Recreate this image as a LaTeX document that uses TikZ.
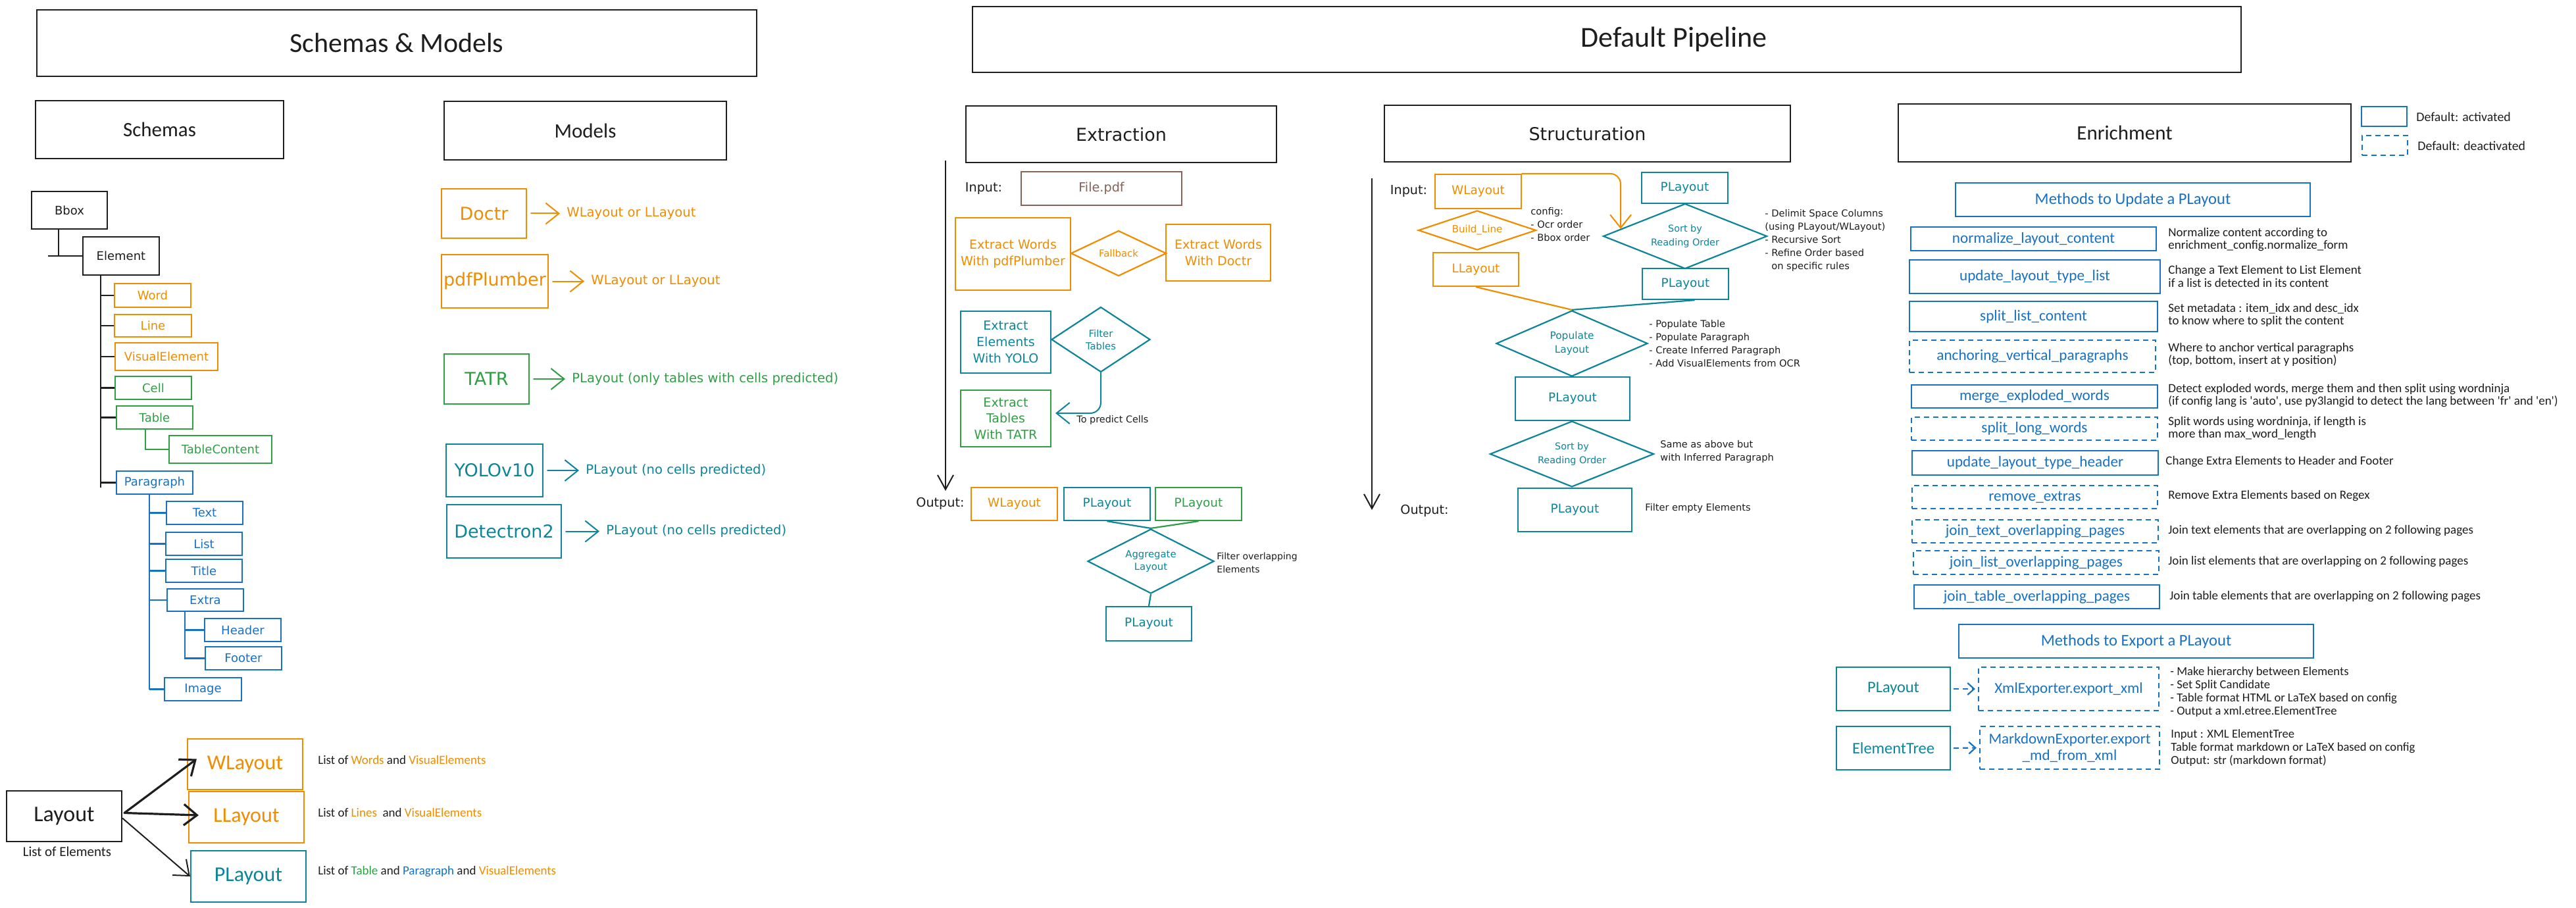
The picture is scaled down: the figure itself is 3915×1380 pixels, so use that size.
\documentclass[tikz,border=0pt]{standalone}
\usepackage{fontspec}
\setmainfont{DejaVu Sans}
\newfontfamily\narrow{Carlito}
\usetikzlibrary{arrows.meta,calc,shapes.geometric}

\definecolor{ink}{HTML}{1E1E1E}
\definecolor{orng}{HTML}{F08C00}
\definecolor{grn}{HTML}{2F9E44}
\definecolor{tl}{HTML}{0C8599}
\definecolor{blu}{HTML}{1971C2}
\definecolor{brwn}{HTML}{846358}

\newcommand\fsz[2]{\fontsize{#1}{#2}\selectfont}
% box from corner (x1,y1) to corner (x2,y2), text centred
\newcommand\bx[7]{\node[#2, minimum width={(#5-#3)*0.5pt}, minimum height={(#6-#4)*0.5pt}] (#1) at ({(#3+#5)/2},{(#4+#6)/2}) {#7};}

\tikzset{
  frame/.style={draw=ink, line width=1.3pt, inner sep=0pt, text=ink},
  cbox/.style={draw=#1, text=#1, line width=1.1pt, inner sep=0pt, align=center},
  dbox/.style={cbox=#1, dash pattern=on 4pt off 3pt},
  dia/.style={diamond, draw=#1, text=#1, line width=1.1pt, inner sep=0pt, align=center},
  note/.style={text=ink, align=left, inner sep=0pt},
  lbl/.style={text=ink, inner sep=0pt},
  arr/.style={-{Straight Barb[length=10pt,width=16pt]}, line width=1pt, line cap=round},
  link/.style={line width=1.1pt},
}

\begin{document}
\begin{tikzpicture}[x=0.5pt, y=-0.5pt]
\fill[white] (0,0) rectangle (3915,1380);
\useasboundingbox (0,0) rectangle (3915,1380);

% ---------- section headers ----------
\bx{tSM}{frame, font=\narrow\fsz{21}{25}}{56}{15}{1150}{116}{Schemas \& Models}
\bx{tDP}{frame}{1478}{10}{3406}{110}{}
\node[lbl, font=\narrow\fsz{22}{26}] (tDPtxt) at (2544,60) {Default Pipeline};
\bx{tSch}{frame, font=\narrow\fsz{15.5}{18}}{54}{153}{431}{241}{Schemas}
\bx{tMod}{frame, font=\narrow\fsz{15.5}{18}}{675}{154}{1104}{243}{Models}
\bx{tExt}{frame, font=\fsz{13.5}{16}}{1468}{161}{1940}{247}{Extraction}
\bx{tStr}{frame, font=\fsz{13.5}{16}}{2104}{160}{2721}{246}{Structuration}
\bx{tEnr}{frame, font=\narrow\fsz{15.5}{18}}{2885}{158}{3573}{246}{Enrichment}

% ---------- schema tree ----------
\begin{scope}[font=\fsz{9}{11}]
\bx{bbox}{cbox=ink}{48}{291}{163}{348}{Bbox}
\bx{elem}{cbox=ink}{126}{360}{242}{418}{Element}
\bx{word}{cbox=orng}{174}{431}{290}{467}{Word}
\bx{line}{cbox=orng}{174}{478}{291}{512}{Line}
\bx{vis}{cbox=orng}{175}{521}{331}{563}{VisualElement}
\bx{cell}{cbox=grn}{175}{572}{291}{607}{Cell}
\bx{tbl}{cbox=grn}{177}{617}{293}{652}{Table}
\bx{tcont}{cbox=grn}{257}{662}{413}{704}{TableContent}
\bx{para}{cbox=blu}{177}{716}{293}{751}{Paragraph}
\bx{ptext}{cbox=blu}{253}{762}{369}{797}{Text}
\bx{plist}{cbox=blu}{252}{809}{368}{844}{List}
\bx{ptitle}{cbox=blu}{252}{850}{368}{885}{Title}
\bx{pextra}{cbox=blu}{254}{895}{370}{929}{Extra}
\bx{phead}{cbox=blu}{311}{940}{427}{975}{Header}
\bx{pfoot}{cbox=blu}{312}{983}{428}{1018}{Footer}
\bx{pimg}{cbox=blu}{250}{1030}{367}{1065}{Image}
\end{scope}

\coordinate (bj) at ($(bbox.south west)+(42,0)$);
\draw[link, ink] (bj) -- (bj |- elem.west);
\draw[link, ink] (elem.west) -- ++(-52,0);
\coordinate (tk) at ($(elem.south west)+(28,0)$);
\draw[link, ink] (tk) -- ($(tk |- para.west)+(0,7)$);
\foreach \n in {word,line,vis,cell,tbl,para} \draw[link, ink] (tk |- \n.west) -- (\n.west);
\draw[link, grn] ($(tbl.south west)+(45,0)$) |- (tcont.west);
\coordinate (pk) at ($(para.south west)+(51,0)$);
\draw[link, blu] (pk) -- (pk |- pimg.west);
\foreach \n in {ptext,plist,ptitle,pextra,pimg} \draw[link, blu] (pk |- \n.west) -- (\n.west);
\coordinate (xk) at ($(pextra.south west)+(28,0)$);
\draw[link, blu] (xk) |- (pfoot.west);
\draw[link, blu] (xk |- phead.west) -- (phead.west);

% ---------- models ----------
\begin{scope}[font=\fsz{13.5}{16}]
\bx{mdoc}{cbox=orng}{671}{287}{800}{362}{Doctr}
\bx{mpdf}{cbox=orng}{671}{387}{833}{468}{pdfPlumber}
\bx{mtatr}{cbox=grn}{675}{538}{804}{614}{TATR}
\bx{myolo}{cbox=tl}{678}{675}{825}{755}{YOLOv10}
\bx{mdet}{cbox=tl}{679}{767}{853}{848}{Detectron2}
\end{scope}
\begin{scope}[font=\fsz{9.8}{12}]
\node[text=orng, anchor=west, inner sep=5pt] (odoc) at (851,324.5) {WLayout or LLayout};
\node[text=orng, anchor=west, inner sep=5pt] (opdf) at (888,427.5) {WLayout or LLayout};
\node[text=grn, anchor=west, inner sep=5pt] (otatr) at (859,576) {PLayout (only tables with cells predicted)};
\node[text=tl, anchor=west, inner sep=5pt] (oyolo) at (880,715) {PLayout (no cells predicted)};
\node[text=tl, anchor=west, inner sep=5pt] (odet) at (911,807.5) {PLayout (no cells predicted)};
\end{scope}
\draw[arr, orng, shorten <=3pt] (mdoc.east) -- (odoc.west);
\draw[arr, orng, shorten <=3pt] (mpdf.east) -- (opdf.west);
\draw[arr, grn, shorten <=3pt] (mtatr.east) -- (otatr.west);
\draw[arr, tl, shorten <=3pt] (myolo.east) -- (oyolo.west);
\draw[arr, tl, shorten <=3pt] (mdet.east) -- (odet.west);

% ---------- layouts ----------
\bx{lay}{cbox=ink, font=\narrow\fsz{17}{20}}{10}{1202}{185}{1279}{Layout}
\node[lbl, font=\narrow\fsz{10.5}{12}] (layc) at (102,1294) {List of Elements};
\begin{scope}[font=\narrow\fsz{16}{19}]
\bx{wlay}{cbox=orng}{285}{1123}{460}{1200}{WLayout}
\bx{llay}{cbox=orng}{287}{1203}{462}{1281}{LLayout}
\bx{play}{cbox=tl}{290}{1293}{465}{1371}{PLayout}
\end{scope}
\draw[arr, ink, line width=1.6pt] ($(lay.east)+(3,-5)$) -- ($(wlay.west)+(15,-8)$);
\draw[arr, ink, line width=1.6pt] ($(lay.east)+(3,-5)$) -- ($(llay.west)+(16,-3)$);
\draw[arr, ink] ($(lay.east)+(0,3)$) -- (play.west);
\begin{scope}[font=\narrow\fsz{9.5}{11}]
\node[note, anchor=west] (wdesc) at (483,1155) {List of \textcolor{orng}{Words} and \textcolor{orng}{VisualElements}};
\node[note, anchor=west] (ldesc) at (483,1235) {List of \textcolor{orng}{Lines}\ \ and \textcolor{orng}{VisualElements}};
\node[note, anchor=west] (pdesc) at (483,1325) {List of \textcolor{grn}{Table} and \textcolor{blu}{Paragraph} and \textcolor{orng}{VisualElements}};
\end{scope}

% ---------- extraction ----------
\coordinate (ea) at (1437,244);
\coordinate (eb) at (1437,746);
\draw[line width=1pt, ink, -{Straight Barb[length=11pt,width=12pt]}] (ea) -- (eb);
\node[lbl, font=\fsz{9.6}{11}] (einp) at (1495,286) {Input:};
\bx{efile}{cbox=brwn, font=\fsz{9.6}{11}}{1552}{261}{1796}{312}{File.pdf}
\begin{scope}[font=\fsz{9.5}{12.4}]
\bx{epdf}{cbox=orng}{1452}{331}{1627}{441}{Extract Words\\With pdfPlumber}
\bx{edoc}{cbox=orng}{1772}{341}{1931}{427}{Extract Words\\With Doctr}
\bx{eyolo}{cbox=tl}{1460}{473}{1597}{567}{Extract\\Elements\\With YOLO}
\bx{etatr}{cbox=grn}{1460}{593}{1597}{679}{Extract\\Tables\\With TATR}
\end{scope}
\node[dia=orng, shape aspect=2.1, minimum width=72.5pt, minimum height=34.5pt, font=\fsz{7.4}{9}] (efb) at (1700,385) {Fallback};
\node[dia=tl, shape aspect=1.5, minimum width=75pt, minimum height=49.5pt, font=\fsz{7.4}{9.5}] (efilt) at (1673,516) {Filter\\Tables};
\draw[arr, tl, rounded corners=8pt] (efilt.south) |- ($(etatr.east)+(6,-8)$);
\node[note, anchor=west, font=\fsz{7.2}{9}] (epred) at (1636,639) {To predict Cells};
\node[lbl, font=\fsz{9.6}{11}] (eout) at (1429,765) {Output:};
\begin{scope}[font=\fsz{9.2}{11}]
\bx{eow}{cbox=orng}{1476}{741}{1607}{791}{WLayout}
\bx{eop}{cbox=tl}{1617}{741}{1748}{791}{PLayout}
\bx{eog}{cbox=grn}{1756}{741}{1887}{791}{PLayout}
\bx{efin}{cbox=tl}{1681}{922}{1811}{974}{PLayout}
\end{scope}
\node[dia=tl, shape aspect=1.96, minimum width=96pt, minimum height=49pt, font=\fsz{7.4}{9.5}] (eagg) at (1749,853) {Aggregate\\Layout};
\draw[link, tl] (eop.south) -- (eagg.north);
\draw[link, grn] (eog.south) -- (eagg.north);
\draw[link, tl] (eagg.south) -- (efin.north);
\node[note, anchor=west, font=\fsz{7}{10}] (eaggc) at (1849,855) {Filter overlapping\\Elements};

% ---------- structuration ----------
\coordinate (sa) at (2085,271);
\coordinate (sb) at (2085,775);
\draw[line width=1pt, ink, -{Straight Barb[length=11pt,width=12pt]}] (sa) -- (sb);
\node[lbl, font=\fsz{9.6}{11}] (sinp) at (2141,290) {Input:};
\node[lbl, font=\fsz{9.6}{11}] (sout) at (2165,776) {Output:};
\begin{scope}[font=\fsz{9.2}{11}]
\bx{sw}{cbox=orng}{2181}{265}{2312}{317}{WLayout}
\bx{sl}{cbox=orng}{2178}{384}{2308}{435}{LLayout}
\bx{sp1}{cbox=tl}{2495}{262}{2626}{309}{PLayout}
\bx{sp2}{cbox=tl}{2496}{408}{2627}{455}{PLayout}
\bx{sp3}{cbox=tl}{2303}{573}{2477}{639}{PLayout}
\bx{sp4}{cbox=tl}{2307}{742}{2480}{808}{PLayout}
\end{scope}
\node[dia=orng, shape aspect=3, minimum width=89.5pt, minimum height=30pt, font=\fsz{7.5}{9}] (sbl) at (2245,350) {Build\_Line};
\node[dia=tl, shape aspect=2.5, minimum width=124.5pt, minimum height=49.5pt, font=\fsz{7.2}{10.5}] (ssort) at (2561,359) {Sort by\\Reading Order};
\node[dia=tl, shape aspect=2.3, minimum width=115pt, minimum height=50pt, font=\fsz{7.7}{10.5}] (spop) at (2389,522) {Populate\\Layout};
\node[dia=tl, shape aspect=2.5, minimum width=124.5pt, minimum height=50pt, font=\fsz{7.2}{10.5}] (ssort2) at (2389,690) {Sort by\\Reading Order};
\draw[arr, orng, rounded corners=8pt] (sw.north east) -| ($(ssort.west)!0.22!(ssort.north)$);
\draw[link, orng] (sl.south) -- (spop.north);
\draw[link, tl] ($(sp2.south)+(14,0)$) -- (spop.north);
\begin{scope}[font=\fsz{7.3}{10}]
\node[note, anchor=west] (scfg) at (2326,341) {config:\\- Ocr order\\- Bbox order};
\node[note, anchor=north west] (ssortc) at (2682,318) {- Delimit Space Columns\\(using PLayout/WLayout)\\- Recursive Sort\\- Refine Order based\\\phantom{- }on specific rules};
\node[note, anchor=north west] (spopc) at (2506,486) {- Populate Table\\- Populate Paragraph\\- Create Inferred Paragraph\\- Add VisualElements from OCR};
\node[note, anchor=north west] (ssort2c) at (2523,669) {Same as above but\\with Inferred Paragraph};
\node[note, anchor=west] (sp4c) at (2500,772) {Filter empty Elements};
\end{scope}

% ---------- enrichment ----------
\bx{lg1}{cbox=blu}{3589}{162}{3658}{192}{}
\bx{lg2}{dbox=blu}{3590}{206}{3659}{236}{}
\node[note, anchor=west, font=\narrow\fsz{9.9}{12}] (lg1t) at (3672,178) {Default: activated};
\node[note, anchor=west, font=\narrow\fsz{9.9}{12}] (lg2t) at (3674,222) {Default: deactivated};
\bx{mupd}{cbox=blu, font=\narrow\fsz{12.3}{15}}{2972}{278}{3511}{329}{Methods to Update a PLayout}
\begin{scope}[font=\narrow\fsz{11.6}{14}]
\bx{m1}{cbox=blu}{2904}{345}{3277}{381}{normalize\_layout\_content}
\bx{m2}{cbox=blu}{2902}{395}{3283}{446}{update\_layout\_type\_list}
\bx{m3}{cbox=blu}{2902}{458}{3279}{504}{split\_list\_content}
\bx{m4}{dbox=blu}{2902}{517}{3276}{566}{anchoring\_vertical\_paragraphs}
\bx{m5}{cbox=blu}{2905}{585}{3279}{620}{merge\_exploded\_words}
\bx{m6}{dbox=blu}{2905}{634}{3279}{669}{split\_long\_words}
\bx{m7}{cbox=blu}{2906}{685}{3280}{722}{update\_layout\_type\_header}
\bx{m8}{dbox=blu}{2906}{738}{3279}{773}{remove\_extras}
\bx{m9}{dbox=blu}{2906}{790}{3280}{825}{join\_text\_overlapping\_pages}
\bx{m10}{dbox=blu}{2908}{837}{3281}{873}{join\_list\_overlapping\_pages}
\bx{m11}{cbox=blu}{2909}{889}{3282}{925}{join\_table\_overlapping\_pages}
\end{scope}
\begin{scope}[font=\narrow\fsz{9.5}{9.8}]
\node[note, anchor=west] (d1) at (3295,364) {Normalize content according to\\enrichment\_config.normalize\_form};
\node[note, anchor=west] (d2) at (3295,420) {Change a Text Element to List Element\\if a list is detected in its content};
\node[note, anchor=west] (d3) at (3295,479) {Set metadata : item\_idx and desc\_idx\\to know where to split the content};
\node[note, anchor=west] (d4) at (3295,539) {Where to anchor vertical paragraphs\\(top, bottom, insert at y position)};
\node[note, anchor=west] (d5) at (3295,601) {Detect exploded words, merge them and then split using wordninja\\(if config lang is 'auto', use py3langid to detect the lang between 'fr' and 'en')};
\node[note, anchor=west] (d6) at (3295,651) {Split words using wordninja, if length is\\more than max\_word\_length};
\node[note, anchor=west] (d7) at (3291,702) {Change Extra Elements to Header and Footer};
\node[note, anchor=west] (d8) at (3295,754) {Remove Extra Elements based on Regex};
\node[note, anchor=west] (d9) at (3295,807) {Join text elements that are overlapping on 2 following pages};
\node[note, anchor=west] (d10) at (3295,854) {Join list elements that are overlapping on 2 following pages};
\node[note, anchor=west] (d11) at (3297,907) {Join table elements that are overlapping on 2 following pages};
\end{scope}

% ---------- export ----------
\bx{mexp}{cbox=blu, font=\narrow\fsz{12.3}{15}}{2977}{949}{3516}{1000}{Methods to Export a PLayout}
\bx{xpl}{cbox=tl, font=\narrow\fsz{12.2}{15}}{2791}{1014}{2964}{1080}{PLayout}
\bx{xxml}{dbox=blu, font=\narrow\fsz{11.5}{14}}{3007}{1014}{3281}{1080}{XmlExporter.export\_xml}
\bx{xet}{cbox=tl, font=\narrow\fsz{12.2}{15}}{2791}{1104}{2964}{1170}{ElementTree}
\bx{xmd}{dbox=blu, font=\narrow\fsz{11.5}{12.5}}{3009}{1104}{3282}{1169}{MarkdownExporter.export\\\_md\_from\_xml}
\draw[blu, line width=1.1pt, dash pattern=on 4pt off 3pt, -{Straight Barb[length=5pt,width=9pt]}, shorten <=2pt, shorten >=2pt] (xpl.east) -- (xxml.west);
\draw[blu, line width=1.1pt, dash pattern=on 4pt off 3pt, -{Straight Barb[length=5pt,width=9pt]}, shorten <=2pt, shorten >=2pt] (xet.east) -- (xmd.west);
\begin{scope}[font=\narrow\fsz{9.3}{10}]
\node[note, anchor=west] (xxmlc) at (3298,1052) {- Make hierarchy between Elements\\- Set Split Candidate\\- Table format HTML or LaTeX based on config\\- Output a xml.etree.ElementTree};
\node[note, anchor=west] (xmdc) at (3299,1137) {Input : XML ElementTree\\Table format markdown or LaTeX based on config\\Output: str (markdown format)};
\end{scope}
\end{tikzpicture}
\end{document}
